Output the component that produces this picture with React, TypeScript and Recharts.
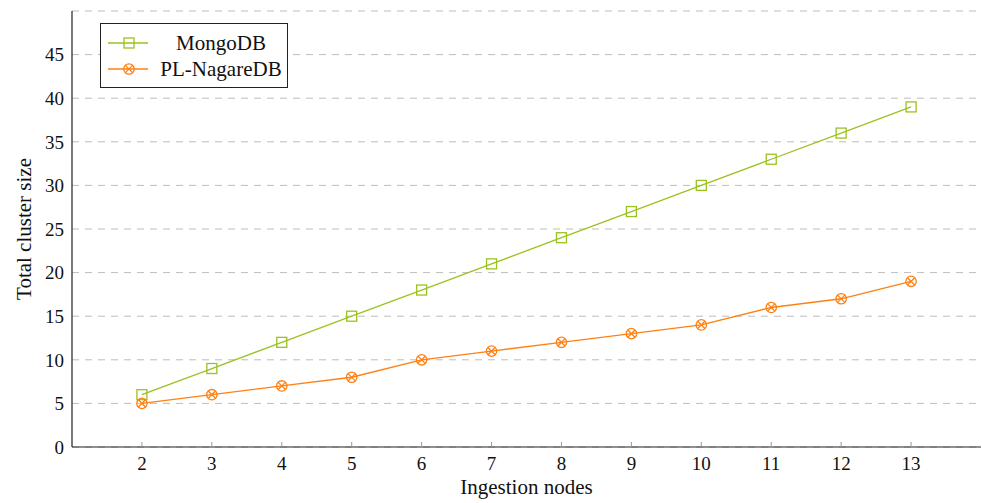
import {
  CartesianGrid,
  Label,
  Legend,
  Line,
  LineChart,
  XAxis,
  YAxis,
} from "recharts";

const nodes = [2, 3, 4, 5, 6, 7, 8, 9, 10, 11, 12, 13];
const mongoDb = [6, 9, 12, 15, 18, 21, 24, 27, 30, 33, 36, 39];
const nagareDb = [5, 6, 7, 8, 10, 11, 12, 13, 14, 16, 17, 19];
const yTicks = [0, 5, 10, 15, 20, 25, 30, 35, 40, 45];
const rightTicks = [5, 10, 15, 20, 25, 30, 35, 40, 45];

const data = nodes.map((n, i) => ({
  nodes: n,
  mongo: mongoDb[i],
  nagare: nagareDb[i],
}));

const GREEN = "#9bc21f";
const ORANGE = "#ff8012";
const FONT = "'Liberation Serif', 'Times New Roman', serif";

function SquareMark({ cx, cy }: { cx: number; cy: number }) {
  return (
    <rect
      x={cx - 5}
      y={cy - 5}
      width={10}
      height={10}
      fill="none"
      stroke={GREEN}
      strokeWidth={1.3}
    />
  );
}

function CrossMark({ cx, cy }: { cx: number; cy: number }) {
  const d = 3.6;
  return (
    <g stroke={ORANGE} strokeWidth={1.3} fill="none">
      <circle cx={cx} cy={cy} r={5.2} />
      <line x1={cx - d} y1={cy - d} x2={cx + d} y2={cy + d} />
      <line x1={cx - d} y1={cy + d} x2={cx + d} y2={cy - d} />
    </g>
  );
}

function SquareDot(props: any) {
  if (props.cx == null || props.cy == null) return null;
  return <SquareMark key={props.index} cx={props.cx} cy={props.cy} />;
}

function CrossDot(props: any) {
  if (props.cx == null || props.cy == null) return null;
  return <CrossMark key={props.index} cx={props.cx} cy={props.cy} />;
}

const legendRows = [
  { name: "MongoDB", color: GREEN, mark: "square" },
  { name: "PL-NagareDB", color: ORANGE, mark: "cross" },
];

function LegendBox() {
  return (
    <div
      style={{
        border: "1px solid #222",
        background: "#fff",
        width: 188,
        height: 65,
        boxSizing: "border-box",
        padding: "6px 0 0 0",
        fontFamily: FONT,
        fontSize: 21,
        lineHeight: "26px",
        color: "#111",
      }}
    >
      {legendRows.map((row) => (
        <div
          key={row.name}
          style={{ display: "flex", alignItems: "center", height: 26 }}
        >
          <svg width={56} height={16} style={{ flex: "none" }}>
            <line x1={7} y1={8} x2={47} y2={8} stroke={row.color} strokeWidth={1.3} />
            {row.mark === "square" ? (
              <SquareMark cx={28} cy={8} />
            ) : (
              <CrossMark cx={28} cy={8} />
            )}
          </svg>
          <span style={{ flex: 1, textAlign: "center", paddingRight: 2 }}>
            {row.name}
          </span>
        </div>
      ))}
    </div>
  );
}

export default function App() {
  return (
    <div
      style={{
        position: "absolute",
        left: 0,
        top: 0,
        width: 982,
        height: 503,
        background: "#fff",
        fontFamily: FONT,
      }}
    >
      <LineChart
        width={982}
        height={503}
        data={data}
        margin={{ top: 11, right: 1, bottom: 0, left: 0 }}
      >
        <CartesianGrid
          horizontal
          vertical={false}
          stroke="#bdbdbd"
          strokeDasharray="7 6"
        />
        <XAxis
          dataKey="nodes"
          type="number"
          domain={[1, 14]}
          ticks={nodes}
          interval={0}
          height={56}
          tickSize={-5}
          tickMargin={15}
          tickLine={{ stroke: "#999" }}
          axisLine={{ stroke: "#222", strokeWidth: 1.2 }}
          tick={{ fill: "#111", fontSize: 19, fontFamily: FONT }}
        >
          <Label
            content={(p: any) => {
              const vb = p.viewBox;
              return (
                <text
                  x={vb.x + vb.width / 2}
                  y={vb.y + vb.height - 9}
                  textAnchor="middle"
                  fill="#111"
                  fontSize={21}
                  fontFamily={FONT}
                >
                  Ingestion nodes
                </text>
              );
            }}
          />
        </XAxis>
        <XAxis
          xAxisId="top"
          dataKey="nodes"
          type="number"
          orientation="top"
          domain={[1, 14]}
          ticks={nodes}
          interval={0}
          height={0}
          tickSize={-5}
          tick={false}
          tickLine={{ stroke: "#999" }}
          axisLine={{ stroke: "#222", strokeWidth: 1.2 }}
        />
        <YAxis
          type="number"
          domain={[0, 50]}
          ticks={yTicks}
          interval={0}
          width={72}
          tickSize={0}
          tickMargin={8}
          tickLine={false}
          axisLine={{ stroke: "#222", strokeWidth: 1.2 }}
          tick={{ fill: "#111", fontSize: 19, fontFamily: FONT }}
        >
          <Label
            content={(p: any) => {
              const vb = p.viewBox;
              const x = vb.x + 24;
              const y = vb.y + vb.height / 2;
              return (
                <text
                  x={x}
                  y={y}
                  transform={`rotate(-90 ${x} ${y})`}
                  textAnchor="middle"
                  dominantBaseline="central"
                  fill="#111"
                  fontSize={21}
                  fontFamily={FONT}
                >
                  Total cluster size
                </text>
              );
            }}
          />
        </YAxis>
        <YAxis
          yAxisId="right"
          orientation="right"
          type="number"
          domain={[0, 50]}
          ticks={rightTicks}
          interval={0}
          width={0}
          tickSize={-5}
          tick={false}
          tickLine={{ stroke: "#777" }}
          axisLine={{ stroke: "#222", strokeWidth: 1.2 }}
        />
        <Legend
          layout="vertical"
          align="center"
          verticalAlign="middle"
          wrapperStyle={{ left: 100, top: 23, width: "auto" }}
          content={() => <LegendBox />}
        />
        <Line
          type="linear"
          dataKey="mongo"
          name="MongoDB"
          stroke={GREEN}
          strokeWidth={1.3}
          dot={SquareDot}
          activeDot={false}
          isAnimationActive={false}
        />
        <Line
          type="linear"
          dataKey="nagare"
          name="PL-NagareDB"
          stroke={ORANGE}
          strokeWidth={1.3}
          dot={CrossDot}
          activeDot={false}
          isAnimationActive={false}
        />
      </LineChart>
    </div>
  );
}
